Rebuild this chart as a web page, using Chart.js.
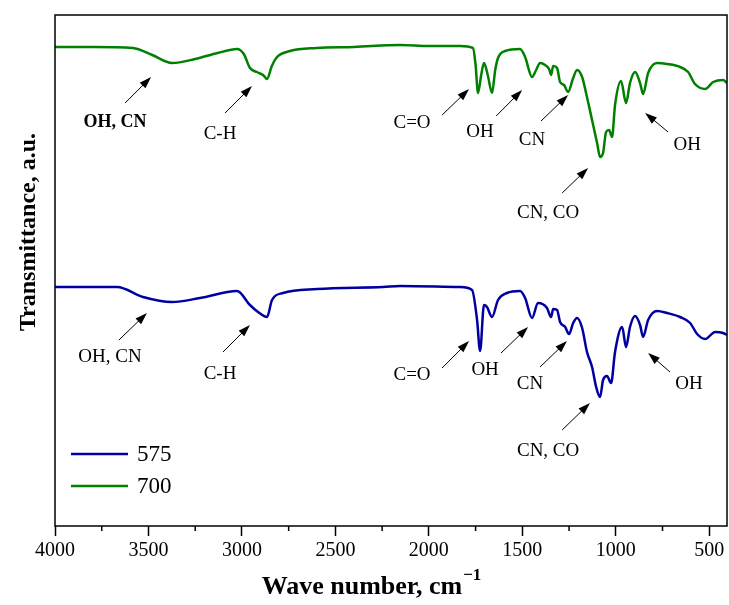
<!DOCTYPE html>
<html>
<head>
<meta charset="utf-8">
<script src="https://cdn.jsdelivr.net/npm/chart.js@4.4.1/dist/chart.umd.min.js"></script>
<style>
    body { margin: 0; background: #fff; }
    #wrap { width: 729px; height: 605px; }
</style>
</head>
<body>
<div id="wrap"><canvas id="chart" width="729" height="605"></canvas></div>
<script>
// FTIR spectra, transmittance in arbitrary units (curves are offset)
var wave700 = [4000, 3800, 3583, 3480, 3374, 3250, 3130, 3026, 2990, 2957, 2920, 2887, 2866, 2840, 2812, 2743, 2600, 2400, 2154, 2000,
    1833, 1764, 1750, 1737, 1720, 1705, 1685, 1662, 1645, 1630, 1592, 1512, 1485, 1448, 1426, 1405, 1378, 1357, 1346, 1335,
    1314, 1298, 1277, 1255, 1228, 1207, 1180, 1159, 1127, 1100, 1084, 1068, 1052, 1036, 1020, 1004, 972, 945, 924, 897,
    870, 854, 827, 779, 725, 656, 613, 576, 522, 479, 426, 405];
var trans700 = [479, 479, 478, 471, 463, 467, 473, 477, 472, 458, 454, 451, 447, 460, 469, 475, 478, 479, 481, 480,
    480, 478, 461, 433, 451, 463, 451, 433, 456, 468, 475, 477, 469, 449, 456, 463, 461, 457, 451, 460,
    458, 444, 441, 434, 448, 456, 449, 433, 406, 383, 369, 373, 394, 396, 389, 421, 445, 423, 443, 454,
    443, 432, 453, 463, 462, 459, 454, 442, 437, 444, 446, 443];

var wave575 = [4000, 3668, 3529, 3374, 3224, 3026, 2957, 2914, 2866, 2839, 2780, 2598, 2245, 2154, 1833, 1769, 1742, 1726, 1705, 1689,
    1662, 1630, 1582, 1512, 1485, 1448, 1416, 1368, 1346, 1335, 1314, 1298, 1271, 1250, 1228, 1207, 1180, 1154, 1127, 1105,
    1084, 1068, 1047, 1025, 1004, 966, 945, 924, 897, 870, 854, 827, 779, 725, 656, 602, 565, 522, 468, 426, 405];
var trans575 = [239, 239, 229, 224, 228, 235, 221, 214, 209, 226, 233, 237, 239, 240, 239, 236, 206, 175, 221, 219,
    209, 226, 233, 235, 228, 208, 223, 218, 209, 217, 216, 204, 199, 192, 203, 208, 198, 174, 159, 139,
    129, 146, 150, 143, 174, 199, 179, 199, 210, 201, 189, 206, 215, 213, 209, 203, 192, 187, 194, 193, 191];

var seriesNames = ['575', '700'];
var seriesColors = ['#0000a0', '#008000'];
var xTickValues = [4000, 3500, 3000, 2500, 2000, 1500, 1000, 500];
var xMinorTicks = [3750, 3250, 2750, 2250, 1750, 1250, 750];

// [text, labelX, labelY, tailX, tailY, headX, headY, bold]  (wave number, a.u.)
var notes = [
    ['OH, CN', 3679, 404, 3625, 423, 3486, 449, true],
    ['C-H', 3117, 392, 3090, 413, 2946, 440, false],
    ['C=O', 2090, 403, 1929, 411, 1785, 437, false],
    ['OH', 1726, 394, 1640, 410, 1501, 436, false],
    ['CN', 1448, 386, 1400, 405, 1255, 431, false],
    ['CN, CO', 1362, 313, 1287, 333, 1148, 358, false],
    ['OH', 618, 381, 720, 394, 843, 413, false],
    ['OH, CN', 3706, 169, 3658, 186, 3508, 213, false],
    ['C-H', 3117, 152, 3101, 174, 2957, 201, false],
    ['C=O', 2090, 151, 1929, 158, 1785, 185, false],
    ['OH', 1699, 156, 1614, 173, 1469, 199, false],
    ['CN', 1459, 142, 1405, 159, 1261, 185, false],
    ['CN, CO', 1362, 75, 1287, 96, 1138, 123, false],
    ['OH', 608, 142, 710, 154, 827, 173, false]
];

var FONT = "'Liberation Serif', 'Times New Roman', serif";

function toPoints(xs, ys) {
    return xs.map((x, i) => ({ x: x, y: ys[i] }));
}

function arrow(ctx, x1, y1, x2, y2) {
    var a = Math.atan2(y2 - y1, x2 - x1);
    var len = 12, half = 4;
    ctx.beginPath();
    ctx.moveTo(x1, y1);
    ctx.lineTo(x2 - Math.cos(a) * len * 0.8, y2 - Math.sin(a) * len * 0.8);
    ctx.stroke();
    ctx.beginPath();
    ctx.moveTo(x2, y2);
    ctx.lineTo(x2 - Math.cos(a) * len - Math.sin(a) * half, y2 - Math.sin(a) * len + Math.cos(a) * half);
    ctx.lineTo(x2 - Math.cos(a) * len + Math.sin(a) * half, y2 - Math.sin(a) * len - Math.cos(a) * half);
    ctx.closePath();
    ctx.fill();
}

var decor = {
    id: 'decor',
    afterDraw: function (chart) {
        var ctx = chart.ctx;
        var area = chart.chartArea;
        var xs = chart.scales.x, ys = chart.scales.y;
        ctx.save();

        // frame
        ctx.strokeStyle = '#000';
        ctx.lineWidth = 1.5;
        ctx.strokeRect(area.left, area.top, area.right - area.left, area.bottom - area.top);

        // minor ticks
        xMinorTicks.forEach(v => {
            var px = xs.getPixelForValue(v);
            ctx.beginPath();
            ctx.moveTo(px, area.bottom);
            ctx.lineTo(px, area.bottom + 5);
            ctx.stroke();
        });

        // annotations
        ctx.fillStyle = '#000';
        ctx.strokeStyle = '#000';
        ctx.lineWidth = 1;
        ctx.textAlign = 'center';
        ctx.textBaseline = 'middle';
        notes.forEach(n => {
            ctx.font = (n[7] ? 'bold 18px ' : '19px ') + FONT;
            ctx.fillText(n[0], xs.getPixelForValue(n[1]), ys.getPixelForValue(n[2]));
            arrow(ctx, xs.getPixelForValue(n[3]), ys.getPixelForValue(n[4]),
                xs.getPixelForValue(n[5]), ys.getPixelForValue(n[6]));
        });

        // legend
        ctx.textAlign = 'left';
        ctx.font = '23px ' + FONT;
        chart.data.datasets.forEach((ds, i) => {
            var y = 454 + i * 32;
            ctx.strokeStyle = ds.borderColor;
            ctx.lineWidth = 2.5;
            ctx.beginPath();
            ctx.moveTo(71, y);
            ctx.lineTo(128, y);
            ctx.stroke();
            ctx.fillStyle = '#000';
            ctx.fillText(ds.label, 137, y + 1);
        });

        // axis titles
        ctx.fillStyle = '#000';
        ctx.font = 'bold 26px ' + FONT;
        var main = 'Wave number, cm';
        var w = ctx.measureText(main).width;
        ctx.font = 'bold 17px ' + FONT;
        var sw = ctx.measureText('\u22121').width;
        var startX = (area.left + area.right) / 2 - (w + sw) / 2 - 20;
        ctx.font = 'bold 26px ' + FONT;
        ctx.textBaseline = 'alphabetic';
        ctx.fillText(main, startX, 594);
        ctx.font = 'bold 17px ' + FONT;
        ctx.fillText('\u22121', startX + w + 1, 580);

        ctx.translate(29, 232);
        ctx.rotate(-Math.PI / 2);
        ctx.textAlign = 'center';
        ctx.textBaseline = 'middle';
        ctx.font = 'bold 24px ' + FONT;
        ctx.fillText('Transmittance, a.u.', 0, 0);
        ctx.restore();
    }
};

Chart.defaults.font.family = FONT;
Chart.defaults.color = '#000';

var ch = document.getElementById('chart');
var chart = new Chart(ch.getContext('2d'), {
    type: 'line',
    data: {
        datasets: [
            {
                label: seriesNames[0],
                data: toPoints(wave575, trans575),
                borderColor: seriesColors[0],
                borderWidth: 2.5,
                pointRadius: 0,
                cubicInterpolationMode: 'monotone'
            },
            {
                label: seriesNames[1],
                data: toPoints(wave700, trans700),
                borderColor: seriesColors[1],
                borderWidth: 2.5,
                pointRadius: 0,
                cubicInterpolationMode: 'monotone'
            }
        ]
    },
    options: {
        responsive: false,
        animation: false,
        layout: { padding: { top: 15, right: 2, left: 0, bottom: 0 } },
        plugins: { legend: { display: false }, tooltip: { enabled: false } },
        scales: {
            x: {
                type: 'linear',
                reverse: true,
                min: 405,
                max: 4000,
                afterBuildTicks: function (scale) {
                    scale.ticks = xTickValues.map(v => ({ value: v }));
                },
                ticks: { font: { size: 20 }, padding: 3, maxRotation: 0, autoSkip: false, callback: v => String(v) },
                grid: { drawOnChartArea: false, tickLength: 10, tickColor: '#000', tickWidth: 1.5 },
                border: { display: false },
                afterFit: function (scale) {
                    scale.height = 79;
                    scale.paddingLeft = 0;
                    scale.paddingRight = 0;
                }
            },
            y: {
                min: 0,
                max: 511,
                ticks: { display: false },
                grid: { display: false },
                border: { display: false },
                afterFit: function (scale) { scale.width = 55; }
            }
        }
    },
    plugins: [decor]
});
</script>
</body>
</html>
